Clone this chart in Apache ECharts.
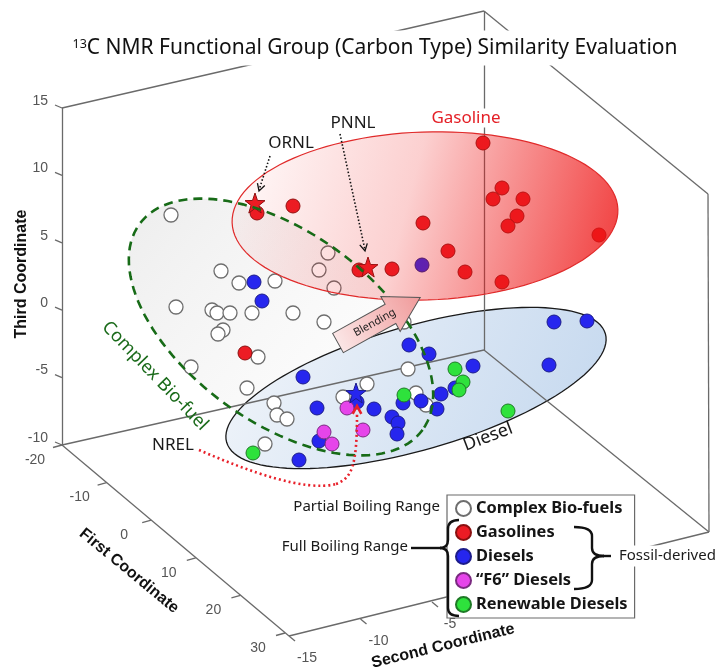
<!DOCTYPE html>
<html><head><meta charset="utf-8">
<script src="https://cdn.jsdelivr.net/npm/echarts@6/dist/echarts.min.js"></script>
<style>html,body{margin:0;padding:0;background:#fff}#c{width:728px;height:669px}</style>
</head><body><div id="c"></div>
<script>
// ---- Data: projected positions of each sample on the picture plane (x right, y down) ----
const complexBioFuels = [[171,215],[221,271],[239,283],[275,281],[328,253],[319,270],[334,288],[176,307],[212,310],[217,313],[230,313],[252,313],[293,313],[324,322],[223,330],[218,334],[258,357],[191,367],[247,388],[408,369],[367,384],[343,397],[274,403],[277,415],[287,419],[416,393],[426,405],[265,444],[404,322]];
const gasolines = [[257,213],[293,206],[423,223],[448,251],[465,272],[392,269],[359,270],[483,143],[502,188],[493,199],[523,199],[517,216],[508,226],[599,235],[502,282],[245,353]];
const diesels = [[422,265],[254,282],[262,301],[409,345],[429,354],[303,377],[473,366],[455,388],[357,402],[317,408],[374,409],[403,403],[421,401],[441,394],[437,409],[392,417],[398,423],[397,434],[319,441],[299,460],[554,322],[587,321],[549,365]];
const f6Diesels = [[347,408],[363,430],[324,432],[332,444]];
const renewableDiesels = [[455,369],[463,382],[459,390],[404,395],[508,411],[253,453]];
const labNames = ['ORNL','PNNL','NREL'];
const labCategory = ['Gasolines','Gasolines','Diesels'];
const labPoints = [[255,203],[368,267],[356,393]];

// ---- Axis tick values ----
const thirdTicks = [-10,-5,0,5,10,15];
const firstTicks = [-20,-10,0,10,20,30];
const secondTicks = [-15,-10,-5,0,5];

const legendNames = ['Complex Bio-fuels','Gasolines','Diesels','\u201cF6\u201d Diesels','Renewable Diesels'];

// ---- Geometry of the 3D box as drawn ----
const box = {
  floorBackLeft:[62,445], topBackLeft:[62,108], topBack:[484,11], floorBack:[484,350],
  topRight:[708,194], floorRight:[709,532], floorFront:[289,636]
};
const axisGeom = {
  third:{v0:-10, p0:[62,445], v1:15, p1:[62,108]},
  first:{v0:-20, p0:[62,445], v1:30, p1:[285,633]},
  second:{v0:-15, p0:[289,636], v1:-5, p1:[432,602]}
};
function axisPoint(ax, v){const g=axisGeom[ax];const t=(v-g.v0)/(g.v1-g.v0);return [g.p0[0]+t*(g.p1[0]-g.p0[0]), g.p0[1]+t*(g.p1[1]-g.p0[1])];}

const regions = {
  bio:{cx:281, cy:327, rx:175, ry:95, rot:36},
  gasoline:{cx:425, cy:216, rx:193, ry:84, rot:-2},
  diesel:{cx:416, cy:388, rx:197, ry:62, rot:-16}
};

const FONT='"Noto Sans", sans-serif';
const ARIAL='"Liberation Sans", Arial, sans-serif';
const STAR='path://M0,-10 L2.35,-3.24 L9.51,-3.09 L3.8,1.24 L5.88,8.09 L0,4 L-5.88,8.09 L-3.8,1.24 L-9.51,-3.09 L-2.35,-3.24 Z';

const styles = {
  'Complex Bio-fuels':{color:'#ffffff', borderColor:'#6e6e6e', borderWidth:1.3},
  'Gasolines':{color:'#ec1c24', borderColor:'#8a1010', borderWidth:1},
  'Diesels':{color:'#2626ee', borderColor:'#1c1c8a', borderWidth:1},
  '\u201cF6\u201d Diesels':{color:'#e645ea', borderColor:'#7a2a80', borderWidth:1},
  'Renewable Diesels':{color:'#2ee23c', borderColor:'#1e7a26', borderWidth:1}
};
const seriesData = [complexBioFuels, gasolines, diesels, f6Diesels, renewableDiesels];

function ellipseSeries(reg, style, z){
  return {type:'custom', coordinateSystem:'cartesian2d', z:z, silent:true, data:[[reg.cx, reg.cy]],
    renderItem:function(params, api){
      const pts=[]; const a=reg.rot*Math.PI/180;
      for(let i=0;i<120;i++){const t=i/120*2*Math.PI; const ex=reg.rx*Math.cos(t), ey=reg.ry*Math.sin(t);
        pts.push(api.coord([reg.cx+ex*Math.cos(a)-ey*Math.sin(a), reg.cy+ex*Math.sin(a)+ey*Math.cos(a)]));}
      return {type:'polygon', shape:{points:pts}, style:style};
    }};
}
function grad(x0,y0,x1,y1,stops){return {type:'linear', x:x0, y:y0, x2:x1, y2:y1, colorStops:stops.map(s=>({offset:s[0], color:s[1]}))};}

const series = [];
// region fills
series.push(ellipseSeries(regions.bio, {fill:grad(0,0,1,1,[[0,'rgba(215,215,215,0.45)'],[1,'rgba(255,255,255,0.2)']]), stroke:null}, 1));
series.push(ellipseSeries(regions.diesel, {fill:grad(0,0,1,1,[[0,'#f1f5fa'],[1,'#c3d7ee']]), stroke:'#1a1a1a', lineWidth:1.3}, 1.5));

// frame edges
const frameEdges = [
  [box.floorBackLeft, box.topBackLeft],[box.topBackLeft, box.topBack],[box.topBack, box.floorBack],
  [box.topBack, box.topRight],[box.topRight, box.floorRight],[box.floorBackLeft, box.floorBack],
  [box.floorBack, box.floorRight],[box.floorBackLeft, box.floorFront],[box.floorFront, box.floorRight]
];
series.push({type:'lines', coordinateSystem:'cartesian2d', z:2, silent:true, animation:false,
  lineStyle:{color:'#6a6a6a', width:1.3, opacity:1}, data:frameEdges.map(e=>({coords:e}))});
// tick marks
const tickSegs=[];
thirdTicks.forEach(v=>{const p=axisPoint('third',v);tickSegs.push([p,[p[0]-7,p[1]-3]]);});
firstTicks.forEach(v=>{const p=axisPoint('first',v);tickSegs.push([p,[p[0]-9,p[1]+2.5]]);});
secondTicks.forEach(v=>{const p=axisPoint('second',v);tickSegs.push([p,[p[0]+6,p[1]+5]]);});
series.push({type:'lines', coordinateSystem:'cartesian2d', z:2, silent:true, animation:false,
  lineStyle:{color:'#6a6a6a', width:1.3, opacity:1}, data:tickSegs.map(e=>({coords:e}))});

// sample points
legendNames.forEach((n,i)=>{
  series.push({type:'scatter', name:n, z:3, symbol:'circle', symbolSize:14, data:seriesData[i], itemStyle:Object.assign({opacity:1}, styles[n])});
});
// lab stars
labNames.forEach((n,i)=>{
  series.push({type:'scatter', name:n, z:3.5, symbol:STAR, symbolSize:20, data:[labPoints[i]], itemStyle:Object.assign({opacity:1}, styles[labCategory[i]])});
});

// gasoline overlay (semi-transparent, above points)
series.push(ellipseSeries(regions.gasoline, {fill:grad(0,0.2,1,0.8,[[0,'rgba(238,20,20,0.02)'],[0.45,'rgba(238,20,20,0.2)'],[1,'rgba(238,20,20,0.82)']]), stroke:'#e02a2a', lineWidth:1.2}, 4));
// bio-fuel dashed outline on top
series.push(ellipseSeries(regions.bio, {fill:null, stroke:'#176b17', lineWidth:2.6, lineDash:[9,6]}, 5));

// ---- annotations ----
const G=[];
function txt(o){G.push({type:'text', z:30, x:o.x, y:o.y, rotation:(o.rot||0)*Math.PI/180,
  style:Object.assign({text:o.text, align:o.align||'center', verticalAlign:'middle', fontFamily:o.font||FONT, fontSize:o.size||15, fill:o.color||'#1a1a1a', fontWeight:o.weight||'normal'}, o.extra||{})});}
function seg(pts, color, w, dash, z){G.push({type:'polyline', z:z||30, shape:{points:pts}, style:{stroke:color, lineWidth:w, fill:null, lineDash:dash||null}});}
function curve(p0, c1, c2, p1, color, w, dash, z){
  const shape={x1:p0[0], y1:p0[1], x2:p1[0], y2:p1[1], cpx1:c1[0], cpy1:c1[1]};
  if(c2){shape.cpx2=c2[0]; shape.cpy2=c2[1];}
  G.push({type:'bezierCurve', z:z||30, shape:shape, style:{stroke:color, lineWidth:w, fill:null, lineDash:dash||null}});
}
function head(tip, from, len, color, w){
  const dx=tip[0]-from[0], dy=tip[1]-from[1], L=Math.hypot(dx,dy), ux=dx/L, uy=dy/L, c=Math.cos(0.5), s=Math.sin(0.5);
  const a=[tip[0]-len*(ux*c-uy*s), tip[1]-len*(uy*c+ux*s)], b=[tip[0]-len*(ux*c+uy*s), tip[1]-len*(uy*c-ux*s)];
  seg([a,tip,b], color, w);
}
// title
G.push({type:'text', z:40, x:375, y:48, style:{text:'{s|13}C NMR Functional Group (Carbon Type) Similarity Evaluation', align:'center', verticalAlign:'middle',
  fontFamily:FONT, fontSize:21, fill:'#111', backgroundColor:'#fff', padding:[7,8,7,8],
  rich:{s:{fontSize:12.5, fontFamily:FONT, fill:'#111', verticalAlign:'top', lineHeight:21}}}});
// labels
txt({text:'Gasoline', x:466, y:118, size:17, color:'#e41f26', extra:{backgroundColor:'#fff', padding:[1,2]}});
txt({text:'ORNL', x:291, y:143, size:17});
txt({text:'PNNL', x:353, y:123, size:17});
txt({text:'NREL', x:173, y:445, size:17});
txt({text:'Diesel', x:488, y:437, size:18, rot:21});
txt({text:'Complex Bio-fuel', x:155, y:376, size:18, color:'#1b6b1b', rot:-46});
// dotted arrows
seg([[270,156],[259,190]], '#111', 1.6, [1.5,2]);
head([259,191],[270,156],8,'#111',1.3);
seg([[340,134],[365,250]], '#111', 1.6, [1.5,2]);
head([365,251],[340,134],8,'#111',1.3);
curve([199,450],[250,472],[305,492],[336,484],'#e8202a',2.6,[2,3]);
curve([336,484],[352,478],[357,466],[357,414],'#e8202a',2.6,[2,3]);
head([357,406],[357,430],9,'#e8202a',2.6);
// blending arrow
G.push({type:'group', z:30, x:338, y:343, rotation:29*Math.PI/180, children:[
  {type:'polygon', z:30, shape:{points:[[0,-11],[60,-11],[60,-20],[94,0],[60,20],[60,11],[0,11]]},
   style:{fill:grad(0,0,1,0,[[0,'#fbe6e6'],[1,'#f09a9a']]), stroke:'#555', lineWidth:1}},
  {type:'text', z:31, x:42, y:0, style:{text:'Blending', align:'center', verticalAlign:'middle', fontFamily:FONT, fontSize:11, fill:'#222'}}
]});
// axis titles
txt({text:'Third Coordinate', x:22, y:274, size:16, weight:'bold', font:ARIAL, color:'#111', rot:90});
txt({text:'First Coordinate', x:129, y:571, size:16, weight:'bold', font:ARIAL, color:'#111', rot:-39.5});
txt({text:'Second Coordinate', x:443, y:646, size:16, weight:'bold', font:ARIAL, color:'#111', rot:13.8});
// tick labels
thirdTicks.forEach(v=>{const p=axisPoint('third',v);G.push({type:'text', z:3, x:48, y:p[1]-7, style:{text:String(v), align:'right', verticalAlign:'middle', fontFamily:ARIAL, fontSize:14, fill:'#555'}});});
firstTicks.forEach(v=>{const p=axisPoint('first',v);G.push({type:'text', z:3, x:p[0]-27, y:p[1]+15, style:{text:String(v), align:'center', verticalAlign:'middle', fontFamily:ARIAL, fontSize:14, fill:'#555'}});});
secondTicks.forEach(v=>{const p=axisPoint('second',v);G.push({type:'text', z:3, x:p[0]+18, y:p[1]+22, style:{text:String(v), align:'center', verticalAlign:'middle', fontFamily:ARIAL, fontSize:14, fill:'#555'}});});
// legend annotations
txt({text:'Partial Boiling Range', x:440, y:507, align:'right', size:15});
txt({text:'Full Boiling Range', x:408, y:547, align:'right', size:15});
txt({text:'Fossil-derived', x:617, y:556, align:'left', size:15, extra:{backgroundColor:'#fff', padding:[3,2]}});
// left brace
curve([459,520],[448,520],null,[448,529],'#111',2.4,null,40);
seg([[448,529],[448,540]],'#111',2.4,null,40);
curve([448,540],[448,548],null,[440,548],'#111',2.4,null,40);
curve([440,548],[448,548],null,[448,556],'#111',2.4,null,40);
seg([[448,556],[448,608]],'#111',2.4,null,40);
curve([448,608],[448,616],null,[459,616],'#111',2.4,null,40);
seg([[411,548],[441,548]],'#111',2.4,null,40);
// right brace
curve([574,527],[592,527],null,[592,536],'#111',2.4,null,40);
seg([[592,536],[592,548]],'#111',2.4,null,40);
curve([592,548],[592,556],null,[604,556],'#111',2.4,null,40);
curve([604,556],[592,556],null,[592,564],'#111',2.4,null,40);
seg([[592,564],[592,580]],'#111',2.4,null,40);
curve([592,580],[592,589],null,[574,589],'#111',2.4,null,40);
seg([[603,556],[611,556]],'#111',2.4,null,40);

const chart = echarts.init(document.getElementById('c'), null, {renderer:'canvas'});
chart.setOption({
  animation:false,
  backgroundColor:'#fff',
  grid:{left:0, right:0, top:0, bottom:0, containLabel:false},
  xAxis:{type:'value', min:0, max:728, show:false},
  yAxis:{type:'value', min:0, max:669, inverse:true, show:false},
  legend:{data:legendNames, orient:'vertical', left:447, top:495, z:20, icon:'circle', itemWidth:15, itemHeight:15, itemGap:7,
    padding:[5,7,5,8], borderColor:'#6a6a6a', borderWidth:1.2, backgroundColor:'#fff', selectedMode:false,
    textStyle:{fontFamily:FONT, fontWeight:'bold', fontSize:16.4, lineHeight:16, color:'#151515'}},
  series: series,
  graphic: G
});
</script></body></html>
